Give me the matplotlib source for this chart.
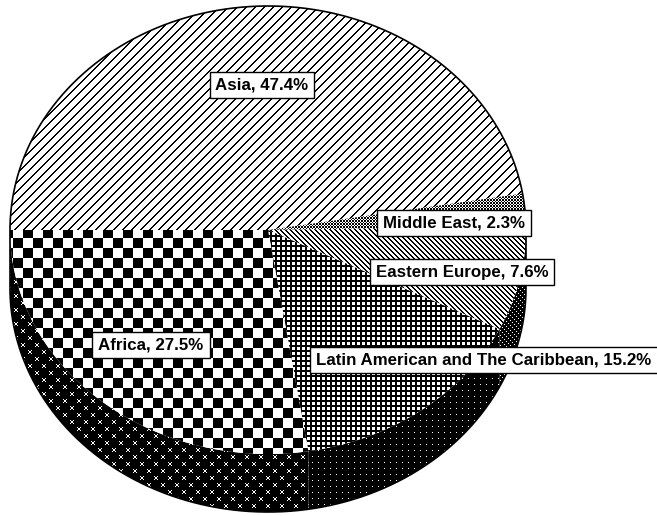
import numpy as np
import matplotlib
matplotlib.use("Agg")
import matplotlib.pyplot as plt
from matplotlib.patches import Polygon

# data, clockwise from the left edge
regions = ["Asia", "Middle East", "Eastern Europe",
           "Latin American and The Caribbean", "Africa"]
shares = [47.4, 2.3, 7.6, 15.2, 27.5]

W, H = 657, 516
cx, cy, rx, ry, depth = 268, 230, 258, 224, 58

# label centres (pixels)
label_pos = {"Asia": (262, 85), "Middle East": (454, 223), "Eastern Europe": (462, 272),
             "Latin American and The Caribbean": (484, 360), "Africa": (151, 345)}

yy, xx = np.mgrid[0:H, 0:W]

# fill textures, 1 = white, 0 = black
tile_x = np.zeros((14, 14))
for i in range(4):
    tile_x[i, i] = tile_x[i, 3 - i] = 1
    tile_x[7 + i, 7 + i] = tile_x[7 + i, 10 - i] = 1

top_tex = {
    "Asia": ((xx + yy) % 9 >= 2),
    "Middle East": ~(((xx + yy) % 3 == 0) | ((xx - yy) % 3 == 0)),
    "Eastern Europe": ((xx - yy) % 5 >= 2),
    "Latin American and The Caribbean": (xx % 5 >= 2) & (yy % 5 >= 2),
    "Africa": (((xx - 3) // 10 + (yy - 228) // 10) % 2 == 1),
}
side_tex = {
    "Eastern Europe": ((xx - yy) % 5 == 0) & (xx % 2 == 0),
    "Latin American and The Caribbean": (xx % 6 == 0) & (yy % 6 == 0),
    "Africa": tile_x[yy % 14, xx % 14] > 0,
    "Middle East": np.zeros_like(xx, dtype=bool),
}


def rim(t1, t2, dy=0, n=200):
    t = np.radians(np.linspace(t1, t2, n))
    return np.column_stack([cx + rx * np.cos(t), cy - ry * np.sin(t) + dy])


def textured(ax, verts, tex):
    patch = Polygon(verts, closed=True, fc="none", ec="none")
    ax.add_patch(patch)
    im = ax.imshow(tex.astype(float), cmap="gray", vmin=0, vmax=1,
                   extent=(0, W, H, 0), interpolation="nearest")
    im.set_clip_path(patch)


fig = plt.figure(figsize=(W / 100, H / 100), dpi=100)
ax = fig.add_axes([0, 0, 1, 1])
ax.set_xlim(0, W)
ax.set_ylim(H, 0)
ax.axis("off")

a = 180.0
for name, s in zip(regions, shares):
    a_end = a - s * 3.6
    # side wall for the part of the slice at the front
    lo, hi = max(a_end, -180), min(a, 0)
    if hi > lo:
        verts = np.vstack([rim(hi, lo), rim(lo, hi, depth)])
        textured(ax, verts, side_tex[name])
    verts = np.vstack([[cx, cy], rim(a, a_end)])
    textured(ax, verts, top_tex[name])
    a = a_end

# outline
outline = np.vstack([rim(0, 180), rim(180, 360, depth), rim(0, 0)])
ax.plot(outline[:, 0], outline[:, 1], color="black", lw=1.2)

for name, s in zip(regions, shares):
    x, y = label_pos[name]
    ax.text(x, y, f"{name}, {s}%", ha="center", va="center", fontsize=12.2,
            fontweight="bold", family=["Liberation Sans"],
            bbox=dict(boxstyle="square,pad=0.35", fc="white", ec="black", lw=1))

fig.savefig("out.png", dpi=100)
